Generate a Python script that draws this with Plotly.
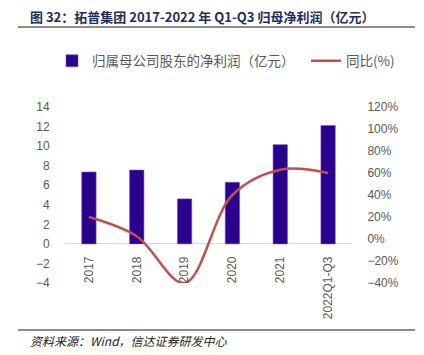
import plotly.graph_objects as go

categories = ["2017", "2018", "2019", "2020", "2021", "2022Q1-Q3"]
net_profit = [7.35, 7.55, 4.6, 6.3, 10.15, 12.1]
yoy_pct = [20, 2.5, -40, 40, 63, 60]

# page geometry (browser body has an 8px default margin)
OFF = 8
PAGE_W, PAGE_H = 424, 355
PL, PR, PT, PB = 65, 352, 107, 283   # plot area in page pixels
pw, ph = PR - PL, PB - PT

def px_x(x):
    return (x - PL) / pw

def px_y(y):
    return (PB - y) / ph

fig = go.Figure()
fig.add_trace(go.Bar(
    x=categories, y=net_profit, name="归属母公司股东的净利润（亿元）",
    marker=dict(color="#2A008F", line=dict(color="#6A55C0", width=0.6)),
    width=0.3, yaxis="y", legend="legend"))
fig.add_trace(go.Scatter(
    x=categories, y=yoy_pct, name="同比(%)", mode="lines",
    line=dict(color="#C0504D", width=2.5, shape="spline", smoothing=1.0),
    yaxis="y2", legend="legend2"))

zero_pos = px_y(243.7)
tickfont = dict(family="Liberation Sans, Arial", size=12, color="#595959")
legfont = dict(family="Noto Sans CJK SC", size=13.5, color="#595959")

fig.update_layout(
    width=PAGE_W - OFF, height=PAGE_H - OFF,
    margin=dict(l=PL - OFF, r=PAGE_W - PR, t=PT - OFF, b=PAGE_H - PB, autoexpand=False),
    paper_bgcolor="white", plot_bgcolor="white",
    showlegend=True,
    legend=dict(orientation="h", x=px_x(52), y=px_y(61), xanchor="left", yanchor="middle",
                font=legfont, itemwidth=30, bgcolor="rgba(0,0,0,0)"),
    legend2=dict(orientation="h", x=px_x(306), y=px_y(61), xanchor="left", yanchor="middle",
                 font=legfont, itemwidth=30, bgcolor="rgba(0,0,0,0)"),
    xaxis=dict(type="category", range=[-0.5, 5.5], anchor="free", position=zero_pos,
               showline=False, showgrid=False, zeroline=False,
               tickangle=-90, tickfont=tickfont, ticks="outside", ticklen=7,
               tickcolor="rgba(0,0,0,0)"),
    yaxis=dict(range=[-4, 14], dtick=2, tickfont=tickfont, showgrid=False,
               zeroline=True, zerolinecolor="#D9D9D9", zerolinewidth=1,
               showline=False, ticks="outside", ticklen=12, tickcolor="rgba(0,0,0,0)"),
    yaxis2=dict(range=[-40, 120], dtick=20, ticksuffix="%", overlaying="y", side="right",
                tickfont=tickfont, showgrid=False, zeroline=False, showline=False,
                ticks="outside", ticklen=12, tickcolor="rgba(0,0,0,0)"),
    shapes=[
        dict(type="line", xref="paper", yref="paper", x0=px_x(18), x1=px_x(415),
             y0=px_y(27), y1=px_y(27), line=dict(color="#1A1A1A", width=1)),
        dict(type="line", xref="paper", yref="paper", x0=px_x(18), x1=px_x(415),
             y0=px_y(330), y1=px_y(330), line=dict(color="#1A1A1A", width=1)),
    ],
    annotations=[
        dict(text="<b>图 32：拓普集团 2017-2022 年 Q1-Q3 归母净利润（亿元）</b>",
             xref="paper", yref="paper", x=px_x(28), y=px_y(17), xanchor="left", yanchor="middle",
             showarrow=False, font=dict(family="Noto Sans CJK SC", size=13, color="#1F2D5A")),
        dict(text="<i>资料来源：Wind，信达证券研发中心</i>",
             xref="paper", yref="paper", x=px_x(28), y=px_y(340), xanchor="left", yanchor="middle",
             showarrow=False, font=dict(family="Noto Sans CJK SC", size=12, color="#222222")),
    ],
)

fig.write_html("out.html")
